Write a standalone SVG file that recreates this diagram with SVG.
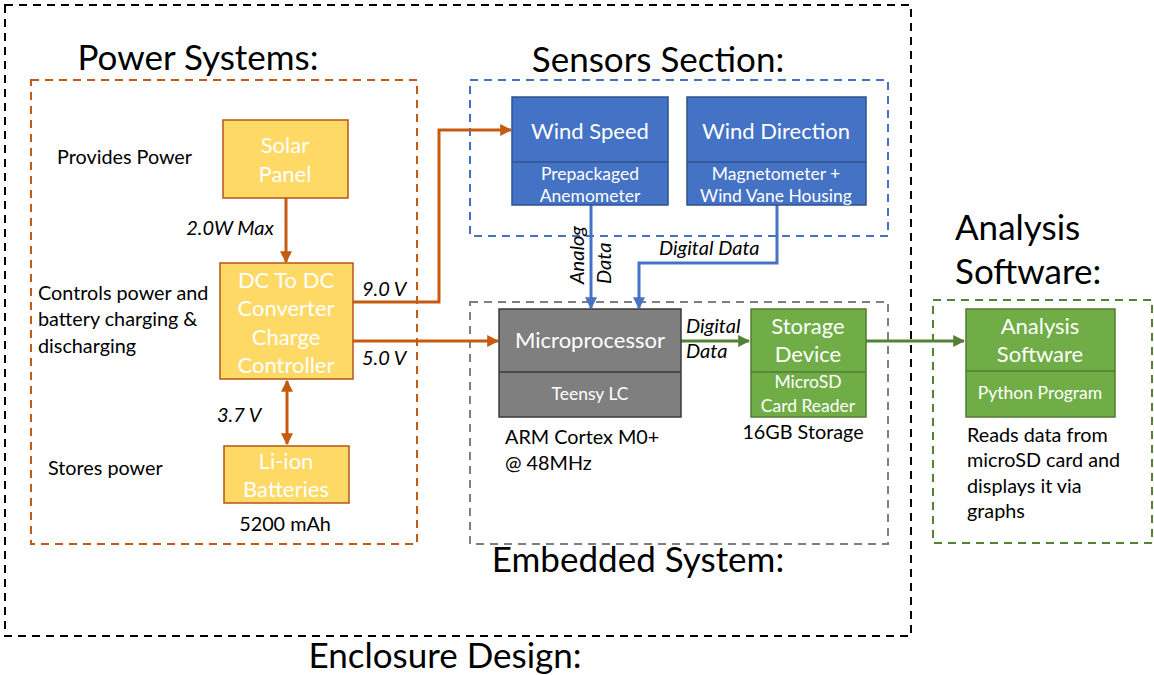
<svg xmlns="http://www.w3.org/2000/svg" width="1154" height="675" viewBox="0 0 1154 675">
<defs>
<style>
text{font-family:Lato,"Open Sans","Liberation Sans",sans-serif;}
.title{font-size:35px;fill:#000;}
.lbl{font-size:19.8px;fill:#000;}
.it{font-size:20px;fill:#000;font-style:italic;}
.big{font-size:22px;fill:#fff;text-anchor:middle;}
.sm{font-size:17.5px;fill:#fff;text-anchor:middle;}
.yel{fill:#FFD966;stroke:#B4541A;stroke-width:1.5;}
.blu{fill:#4472C4;stroke:#2F528F;stroke-width:1.5;}
.gry{fill:#7F7F7F;stroke:#3A3A3A;stroke-width:1.5;}
.grn{fill:#70AD47;stroke:#507E32;stroke-width:1.5;}
.o{stroke:#C55A11;stroke-width:3;fill:none;}
.b{stroke:#4472C4;stroke-width:3;fill:none;}
.g{stroke:#548235;stroke-width:3;fill:none;}
</style>
<marker id="ao" viewBox="0 0 10 10" refX="9" refY="5" markerWidth="4" markerHeight="4" orient="auto-start-reverse"><path d="M0,0 L10,5 L0,10 z" fill="#C55A11"/></marker>
<marker id="ab" viewBox="0 0 10 10" refX="9" refY="5" markerWidth="4" markerHeight="4" orient="auto"><path d="M0,0 L10,5 L0,10 z" fill="#4472C4"/></marker>
<marker id="ag" viewBox="0 0 10 10" refX="9" refY="5" markerWidth="4" markerHeight="4" orient="auto"><path d="M0,0 L10,5 L0,10 z" fill="#548235"/></marker>
</defs>
<rect width="1154" height="675" fill="#fff"/>

<g id="enclosure">
<rect x="5" y="5" width="906" height="631" fill="none" stroke="#000" stroke-width="2" stroke-dasharray="8,6"/>
<text class="title" x="445" y="668" text-anchor="middle">Enclosure Design:</text>
</g>
<g id="power-section">
<rect x="31" y="80" width="386" height="464" fill="none" stroke="#C55A11" stroke-width="2" stroke-dasharray="8,6"/>
<text class="title" x="198" y="70" text-anchor="middle">Power Systems:</text>
<text class="lbl" x="57" y="164">Provides Power</text>
<text class="lbl" x="38" y="300">Controls power and</text>
<text class="lbl" x="38" y="326">battery charging &amp;</text>
<text class="lbl" x="38" y="353">discharging</text>
<text class="lbl" x="48" y="475">Stores power</text>
</g>
<g id="sensors-section">
<rect x="470" y="80" width="418" height="156" fill="none" stroke="#4472C4" stroke-width="2" stroke-dasharray="8,6"/>
<text class="title" x="658" y="72" text-anchor="middle">Sensors Section:</text>
</g>
<g id="embedded-section">
<rect x="470" y="302" width="418" height="242" fill="none" stroke="#7F7F7F" stroke-width="2" stroke-dasharray="8,6"/>
<text class="title" x="638" y="572" text-anchor="middle">Embedded System:</text>
</g>
<g id="analysis-section">
<rect x="933" y="300" width="219" height="243" fill="none" stroke="#548235" stroke-width="2" stroke-dasharray="8,6"/>
<text class="title" x="955" y="240">Analysis</text>
<text class="title" x="955" y="284">Software:</text>
</g>

<g id="connectors">
<line class="o" x1="286" y1="198" x2="286" y2="262" marker-end="url(#ao)"/>
<path class="o" d="M353,302 H439 V130 H511" marker-end="url(#ao)"/>
<line class="o" x1="353" y1="341" x2="498" y2="341" marker-end="url(#ao)"/>
<line class="o" x1="287" y1="381" x2="287" y2="444" marker-start="url(#ao)" marker-end="url(#ao)"/>
<line class="b" x1="591" y1="205" x2="591" y2="308" marker-end="url(#ab)"/>
<path class="b" d="M777,205 V263 H639 V308" marker-end="url(#ab)"/>
<line class="g" x1="681" y1="341" x2="749" y2="341" marker-end="url(#ag)"/>
<line class="g" x1="866" y1="341" x2="964" y2="341" marker-end="url(#ag)"/>
<text class="it" x="230" y="235" text-anchor="middle">2.0W Max</text>
<text class="it" x="362" y="296">9.0 V</text>
<text class="it" x="362" y="365">5.0 V</text>
<text class="it" x="217" y="422">3.7 V</text>
<text class="it" transform="translate(584,284) rotate(-90)">Analog</text>
<text class="it" transform="translate(611,284) rotate(-90)">Data</text>
<text class="it" x="659" y="255">Digital Data</text>
<text class="it" x="686" y="333">Digital</text>
<text class="it" x="686" y="358">Data</text>
</g>

<g id="solar-panel">
<rect class="yel" x="223" y="120" width="125" height="78"/>
<text class="big" x="285" y="153">Solar</text>
<text class="big" x="285" y="182">Panel</text>
</g>
<g id="dc-converter">
<rect class="yel" x="220" y="263" width="133" height="116"/>
<text class="big" x="286" y="288">DC To DC</text>
<text class="big" x="286" y="316">Converter</text>
<text class="big" x="286" y="345">Charge</text>
<text class="big" x="286" y="373">Controller</text>
</g>
<g id="batteries">
<rect class="yel" x="224" y="446" width="125" height="57"/>
<text class="big" x="286" y="469">Li-ion</text>
<text class="big" x="286" y="497">Batteries</text>
<text class="lbl" x="285" y="531" text-anchor="middle">5200 mAh</text>
</g>
<g id="wind-speed">
<rect class="blu" x="512" y="97" width="156" height="108"/>
<line x1="512" y1="162" x2="668" y2="162" stroke="#2F528F" stroke-width="1.5"/>
<text class="big" x="590" y="139">Wind Speed</text>
<text class="sm" x="590" y="180">Prepackaged</text>
<text class="sm" x="590" y="202">Anemometer</text>
</g>
<g id="wind-direction">
<rect class="blu" x="687" y="97" width="179" height="108"/>
<line x1="687" y1="162" x2="866" y2="162" stroke="#2F528F" stroke-width="1.5"/>
<text class="big" x="776" y="139">Wind Direction</text>
<text class="sm" x="776" y="180">Magnetometer +</text>
<text class="sm" x="776" y="202">Wind Vane Housing</text>
</g>
<g id="microprocessor">
<rect class="gry" x="499" y="309" width="182" height="108"/>
<line x1="499" y1="372" x2="681" y2="372" stroke="#3A3A3A" stroke-width="1.5"/>
<text class="big" x="590" y="348">Microprocessor</text>
<text class="sm" x="590" y="400">Teensy LC</text>
<text class="lbl" x="505" y="444">ARM Cortex M0+</text>
<text class="lbl" x="505" y="470">@ 48MHz</text>
</g>
<g id="storage">
<rect class="grn" x="751" y="309" width="115" height="108"/>
<line x1="751" y1="372" x2="866" y2="372" stroke="#507E32" stroke-width="1.5"/>
<text class="big" x="808" y="334">Storage</text>
<text class="big" x="808" y="362">Device</text>
<text class="sm" x="808" y="388">MicroSD</text>
<text class="sm" x="808" y="412">Card Reader</text>
<text class="lbl" x="803" y="439" text-anchor="middle">16GB Storage</text>
</g>
<g id="analysis-software">
<rect class="grn" x="966" y="309" width="149" height="108"/>
<line x1="966" y1="371" x2="1115" y2="371" stroke="#507E32" stroke-width="1.5"/>
<text class="big" x="1040" y="334">Analysis</text>
<text class="big" x="1040" y="362">Software</text>
<text class="sm" x="1040" y="399">Python Program</text>
<text class="lbl" x="967" y="442">Reads data from</text>
<text class="lbl" x="967" y="467">microSD card and</text>
<text class="lbl" x="967" y="493">displays it via</text>
<text class="lbl" x="967" y="518">graphs</text>
</g>
</svg>
